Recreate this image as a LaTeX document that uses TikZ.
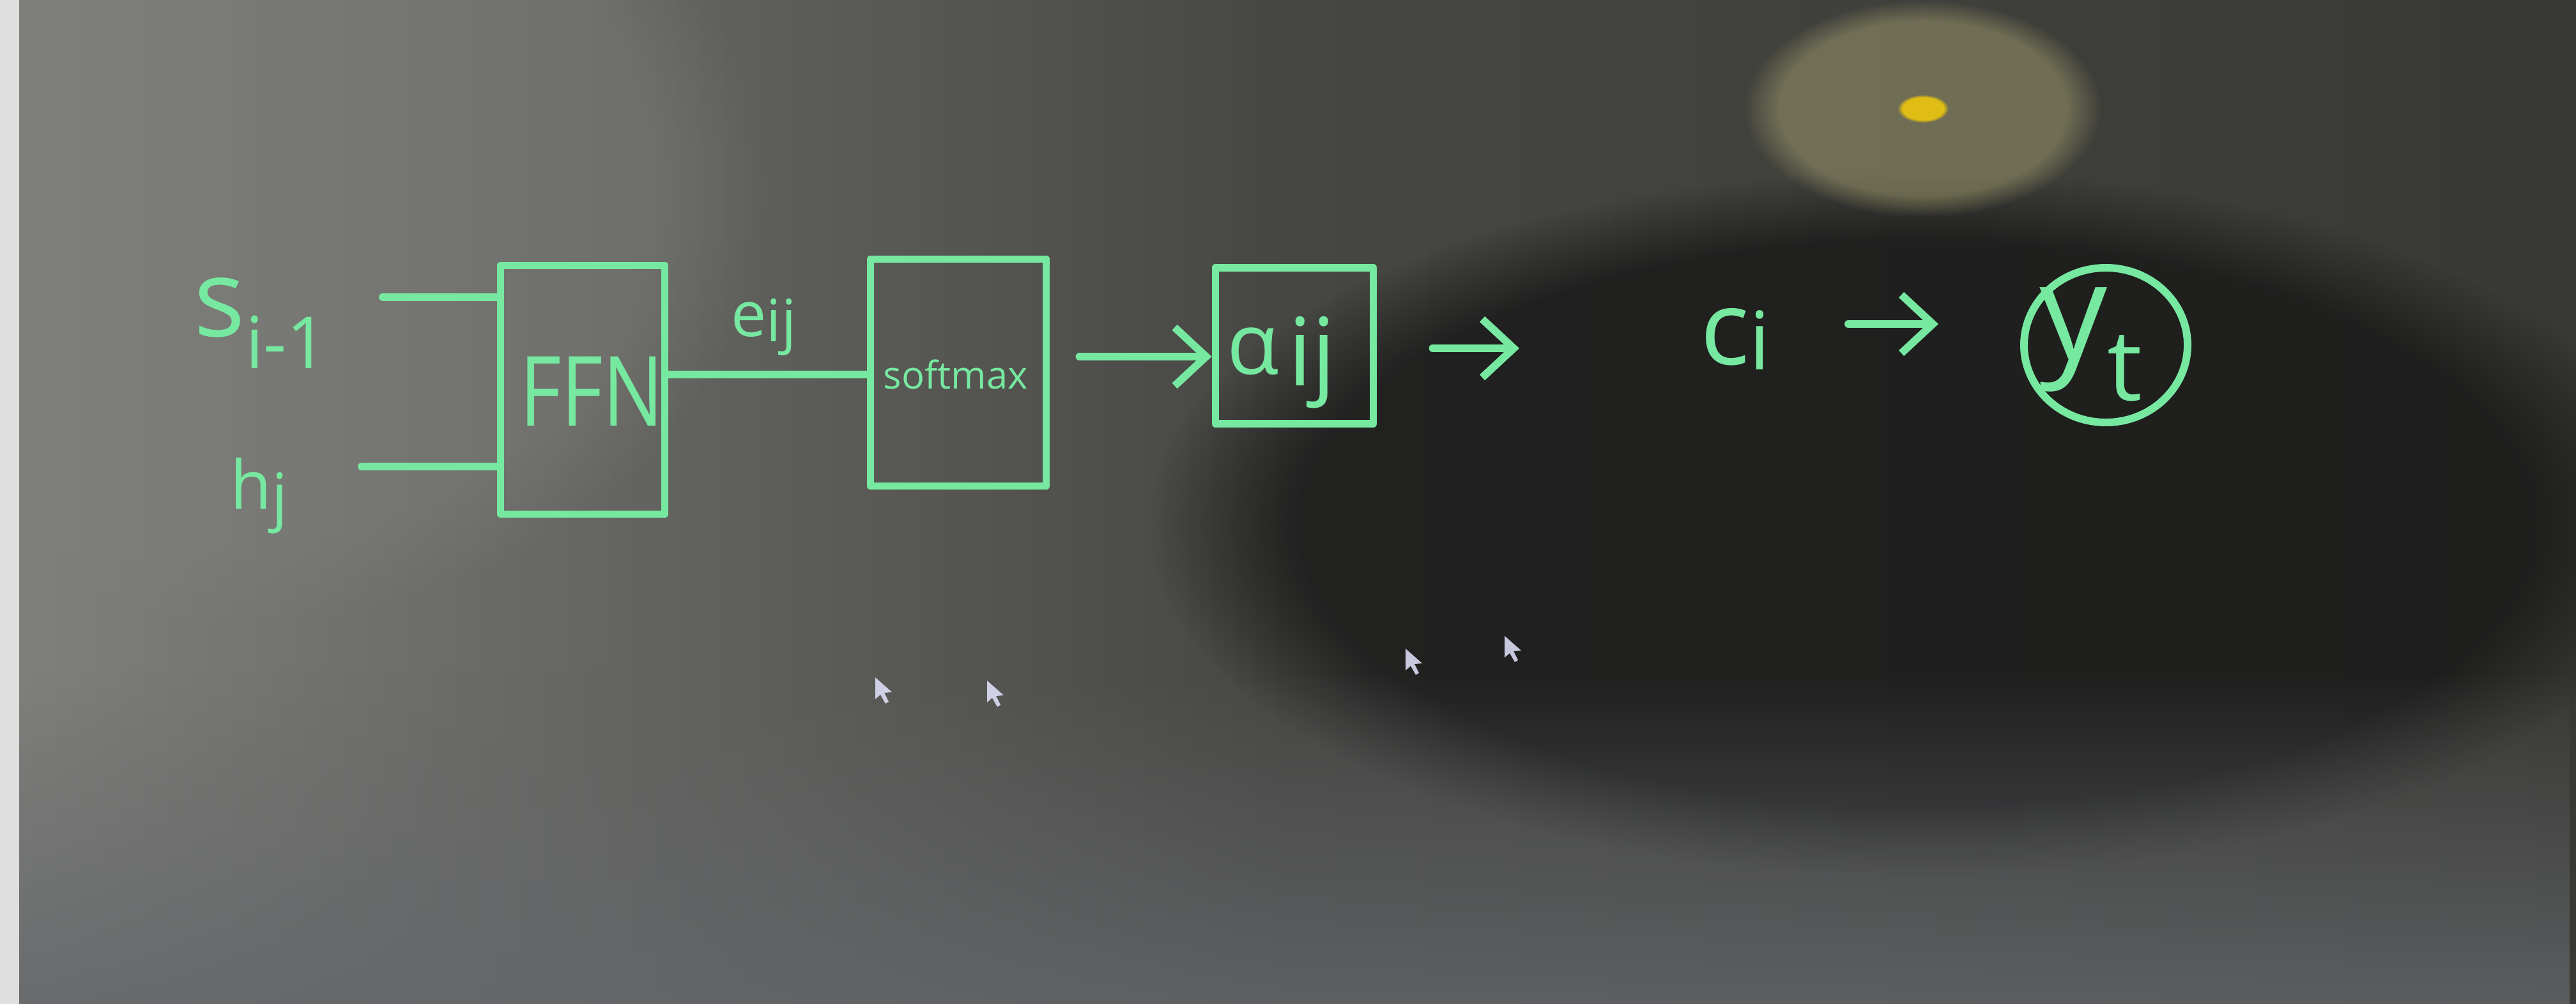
\documentclass[tikz,border=0pt]{standalone}
\usepackage{fontspec}
\setmainfont{Open Sans}
\usetikzlibrary{shapes.geometric,fadings,arrows.meta}
\definecolor{ink}{RGB}{118,232,160}
\definecolor{bgL}{RGB}{128,128,124}
\definecolor{bgM}{RGB}{70,70,67}
\definecolor{bgR}{RGB}{56,56,52}
\definecolor{bgD}{RGB}{24,24,24}
\definecolor{bgB}{RGB}{100,102,106}
\definecolor{glare}{RGB}{185,180,120}
% base size, base, sub size, sub, lowering
\newcommand\lab[5]{{\fontsize{#1}{#1}\selectfont #2}\raisebox{-#5}{\fontsize{#3}{#3}\selectfont #4}}
\begin{document}
\begin{tikzpicture}[
  stroke/.style={draw=ink, line width=3.4pt, line cap=round, line join=round},
  blockbox/.style={stroke, rectangle, inner sep=0pt},
  lbl/.style={text=ink, inner sep=0pt},
  sym/.style={lbl, anchor=base west},
  arr/.style={stroke, -{Straight Barb[length=14pt,width=26pt,line width=3.4pt]}},
  cursor/.style={fill=white!90!blue, opacity=0.85}
]
% ---- background photo of a screen ----
\useasboundingbox (0,0) rectangle (40.32,-15.71);
\shade[left color=bgL, right color=bgR, middle color=bgM] (0,0) rectangle (40.32,-15.71);
\fill[bgD, path fading=circle with fuzzy edge 20 percent, opacity=0.8] (30,-8.2) ellipse (12 and 5.5);
\fill[bgL, path fading=circle with fuzzy edge 20 percent, opacity=0.4] (3,-3) ellipse (9 and 7);
\fill[bgB, path fading=north, opacity=0.8] (0,-10.5) rectangle (40.32,-15.71);
\fill[glare, path fading=circle with fuzzy edge 20 percent, opacity=0.4] (30.1,-1.7) ellipse (2.8 and 1.7);
\fill[yellow!70!orange, path fading=circle with fuzzy edge 20 percent, opacity=0.8] (30.1,-1.7) ellipse (0.4 and 0.22);
\fill[white!75!gray] (0,0) rectangle (0.3,-15.71);
% ---- cursors ----
\foreach \cx/\cy in {13.7/-10.6, 15.45/-10.65, 22.0/-10.15, 23.55/-9.95}{
  \fill[cursor] (\cx,\cy) -- ++(0,-0.34) -- ++(0.08,0.07) -- ++(0.08,-0.14) -- ++(0.05,0.03) -- ++(-0.07,0.14) -- ++(0.12,0.01) -- cycle;
}
% ---- diagram ----
\node[sym] (s) at (3.03,-5.27) {\lab{48}{s}{32}{i-1}{14pt}};
\node[sym] (h) at (3.60,-7.97) {\lab{30}{h}{28}{j}{4pt}};
\node[blockbox, minimum width=2.57cm, minimum height=3.89cm] (ffn) at (9.12,-6.10) {};
\node[lbl, font=\fontsize{36}{40}\selectfont, yscale=1.2] (ffnt) at (9.26,-6.12) {FFN};
\coordinate (s0) at (5.99,-4.65);
\coordinate (h0) at (5.66,-7.30);
\draw[stroke] (s0) -- (ffn.west |- s0);
\draw[stroke] (h0) -- (ffn.west |- h0);
\node[blockbox, minimum width=2.75cm, minimum height=3.55cm] (sm) at (15.0,-5.83) {};
\node[lbl, font=\fontsize{17}{20}\selectfont] (smt) at (14.96,-5.86) {softmax};
\coordinate (e0) at (ffn.east |- 0,-5.86);
\draw[stroke] (e0) -- (sm.west |- e0);
\node[sym] (e) at (11.44,-5.27) {\lab{28}{e}{26}{ij}{2pt}};
\node[blockbox, minimum width=2.47cm, minimum height=2.44cm] (al) at (20.26,-5.41) {};
\node[sym] (alt) at (19.20,-5.86) {\lab{38}{α\kern4pt}{42}{ij}{5pt}};
\coordinate (a0) at (sm.east |- 0,-5.58);
\draw[arr, shorten <=0.46cm] (a0) -- (al.west |- a0);
\coordinate (b0) at (al.east |- 0,-5.45);
\coordinate (b1) at (23.78,-5.45);
\draw[arr, shorten <=0.87cm] (b0) -- (b1);
\node[sym] (c) at (26.61,-5.71) {\lab{46}{c}{36}{i}{2pt}};
\node[stroke, ellipse, minimum width=2.56cm, minimum height=2.42cm, inner sep=0pt] (y) at (32.96,-5.40) {};
\node[sym] (yt) at (31.92,-5.63) {\lab{60}{y}{44}{t}{18pt}};
\coordinate (c0) at (28.93,-5.07);
\coordinate (c1) at (30.34,-5.07);
\draw[arr] (c0) -- (c1);
\end{tikzpicture}
\end{document}
